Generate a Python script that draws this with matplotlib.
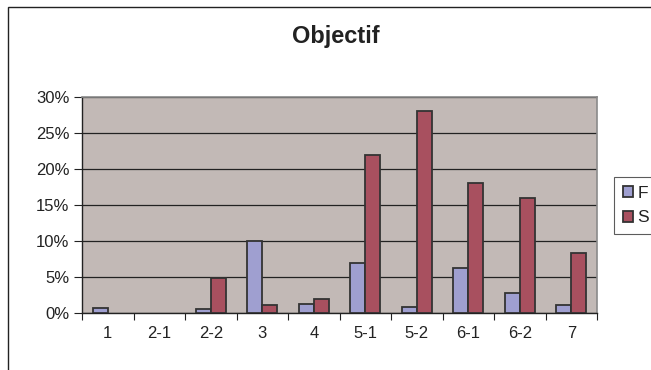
import numpy as np
import matplotlib
matplotlib.use("Agg")
import matplotlib.pyplot as plt
from matplotlib.patches import Rectangle, Patch
from matplotlib.ticker import PercentFormatter, FixedLocator

plt.rcParams["font.family"] = ["Liberation Sans", "DejaVu Sans"]

categories = ["1", "2-1", "2-2", "3", "4", "5-1", "5-2", "6-1", "6-2", "7"]
f_vals = [0.7, 0.0, 0.6, 10.0, 1.2, 6.9, 0.9, 6.3, 2.8, 1.1]
s_vals = [0.0, 0.0, 4.8, 1.1, 2.0, 22.0, 28.0, 18.0, 16.0, 8.3]

F_COLOR = "#9F9FD0"
S_COLOR = "#A8505F"
EDGE = "#333333"

fig = plt.figure(figsize=(6.51, 3.70), dpi=100)
ax = fig.add_axes([82 / 651, 1 - 313 / 370, 515 / 651, 216 / 370])
ax.set_facecolor("#C2B9B6")

x = np.arange(len(categories))
w = 0.29
bf = ax.bar(x - w / 2, f_vals, w, color=F_COLOR, edgecolor=EDGE, linewidth=1.3, zorder=3)
bs = ax.bar(x + w / 2, s_vals, w, color=S_COLOR, edgecolor=EDGE, linewidth=1.3, zorder=3)
# Excel draws nothing for empty values
for bars, vals in ((bf, f_vals), (bs, s_vals)):
    for b, v in zip(bars, vals):
        if v == 0:
            b.set_visible(False)

ax.set_xlim(-0.5, len(categories) - 0.5)
ax.set_ylim(0, 30)
ax.set_yticks(np.arange(0, 31, 5))
ax.yaxis.set_major_formatter(PercentFormatter(decimals=0))
ax.yaxis.grid(True, color="#222222", linewidth=0.9, zorder=1)
ax.set_axisbelow(True)

ax.set_xticks(x)
ax.set_xticklabels(categories)
ax.xaxis.set_minor_locator(FixedLocator(np.arange(-0.5, len(categories), 1)))
ax.tick_params(axis="x", which="major", length=0, pad=9, labelsize=12)
ax.tick_params(axis="x", which="minor", length=5, width=0.8, color="#222222")
ax.tick_params(axis="y", length=6, width=0.8, color="#222222", labelsize=12, pad=3)
for lab in ax.get_xticklabels() + ax.get_yticklabels():
    lab.set_color("#222222")

for side in ["top", "right"]:
    ax.spines[side].set_color("#8A8A8A")
    ax.spines[side].set_linewidth(1.2)
for side in ["left", "bottom"]:
    ax.spines[side].set_color("#222222")
    ax.spines[side].set_linewidth(1.0)

fig.text(336 / 651, 1 - 37 / 370, "Objectif", ha="center", va="center",
         fontsize=17, fontweight="bold", color="#222222")

handles = [Patch(facecolor=F_COLOR, edgecolor=EDGE, linewidth=1.3, label="F"),
           Patch(facecolor=S_COLOR, edgecolor=EDGE, linewidth=1.3, label="S")]
leg = fig.legend(handles=handles, loc="upper left", bbox_to_anchor=(614 / 651, 1 - 177 / 370),
                 fontsize=12.5, frameon=True, fancybox=False, handlelength=0.6,
                 handleheight=0.6, handletextpad=0.25, borderpad=0.5,
                 labelspacing=0.55, borderaxespad=0)
leg.get_frame().set_edgecolor("#333333")
leg.get_frame().set_linewidth(0.8)
for t in leg.get_texts():
    t.set_color("#222222")

fig.patches.append(Rectangle((8 / 651, -0.1), 1.2, 1 - 7 / 370 + 0.1,
                             transform=fig.transFigure, fill=False,
                             edgecolor="#222222", linewidth=1.0))

fig.savefig("out.png", dpi=100)
